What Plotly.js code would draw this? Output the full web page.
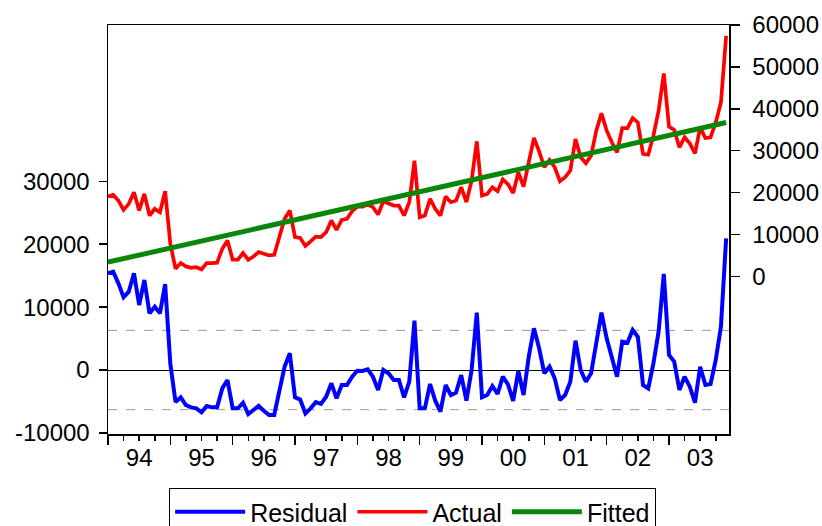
<!DOCTYPE html>
<html>
<head>
<meta charset="utf-8">
<script src="https://cdn.plot.ly/plotly-3.0.1.min.js"></script>
<style>
html,body{margin:0;padding:0;background:#fff;}
#chart{width:822px;height:526px;}
</style>
</head>
<body>
<div id="chart"></div>
<script>
// Monthly observations, 1994M01 .. 2003M12 (index 0..119)
const monthIndex = Array.from({length:120}, (_, i) => i);

const actual = [
19060,19450,18100,15880,17310,20090,15720,19690,14530,16120,15320,20330,
7780,1830,3180,2380,2060,2220,1670,3180,3180,3260,6590,8580,
3970,3970,5560,3970,4760,5800,5400,5000,5160,9770,13740,15720,
9370,9170,7260,8340,9500,9370,10560,13340,11120,13500,13740,15560,
16670,16670,17150,16520,14770,17940,17310,16910,16910,14530,17710,27630,
14130,14530,18500,16120,14530,19060,17710,18100,21280,17710,22870,32240,
19290,19690,21280,20330,23150,21990,19890,24850,21440,27630,33030,29850,
26040,27790,26040,22710,23660,25250,32790,28430,27000,28820,34780,38910,
34780,32000,29620,35410,35410,37790,36760,29220,29060,33590,39540,48430,
35730,34940,30810,33190,31760,29380,35570,33030,33190,36760,41530,57410
];

const fitted = [
3400,3680,3960,4240,4520,4800,5080,5360,5640,5920,6200,6480,
6760,7040,7320,7600,7880,8160,8440,8720,9000,9280,9560,9840,
10120,10400,10680,10960,11240,11520,11800,12080,12360,12640,12920,13200,
13480,13760,14040,14320,14600,14880,15160,15440,15720,16000,16280,16560,
16840,17120,17400,17680,17960,18240,18520,18800,19080,19360,19640,19920,
20200,20480,20760,21040,21320,21600,21880,22160,22440,22720,23000,23280,
23560,23840,24120,24400,24680,24960,25240,25520,25800,26080,26360,26640,
26920,27200,27480,27760,28040,28320,28600,28880,29160,29440,29720,30000,
30280,30560,30840,31120,31400,31680,31960,32240,32520,32800,33080,33360,
33640,33920,34200,34480,34760,35040,35320,35600,35880,36160,36440,36720
];

const residual = [
15370,15640,13780,11550,12450,15370,10330,14310,9000,10070,9010,13670,
1000,-5100,-4350,-5570,-5940,-6100,-6730,-5720,-5940,-5940,-2920,-1590,
-6100,-6100,-5200,-7000,-6360,-5720,-6470,-7150,-7150,-3180,530,2650,
-4350,-4700,-6890,-6100,-5120,-5400,-4240,-2120,-4500,-2390,-2390,-1060,
-110,-160,110,-1060,-3180,0,-530,-1590,-1590,-4350,-1860,7840,
-6100,-6100,-2230,-4880,-6630,-2390,-3980,-3600,-800,-4880,0,9120,
-4350,-3980,-2540,-3820,-1060,-2300,-4900,-130,-3980,2120,6630,3450,
-530,530,-1330,-4770,-3980,-1860,4660,0,-1860,-530,4770,9120,
5040,1860,-1060,4500,4350,6360,5300,-2390,-2920,1060,6100,15270,
2390,1330,-3180,-1060,-2650,-5190,530,-2390,-2230,1590,6890,20940
];

// Standard-error band for the residual
const seBand = 6300;

// Axis ticks
const yearLabels = ['94','95','96','97','98','99','00','01','02','03'];
const yearLabelPos = [6,18,30,42,54,66,78,90,102,114];
const yearStartPos = [0,12,24,36,48,60,72,84,96,108];
const quarterPos = Array.from({length:40}, (_, i) => i*3);
const leftTicks = [-10000,0,10000,20000,30000];
const leftTickText = ['-10000','0','10000','20000','30000'];
const rightTicks = [0,10000,20000,30000,40000,50000,60000];
const rightTickText = ['0','10000','20000','30000','40000','50000','60000'];

const FONT = 'Liberation Sans, Arial, Helvetica, sans-serif';

const traces = [
  {x: monthIndex, y: residual, name: 'Residual', type: 'scatter', mode: 'lines',
   xaxis: 'x', yaxis: 'y', line: {color: '#0000ff', width: 4}},
  {x: monthIndex, y: actual, name: 'Actual', type: 'scatter', mode: 'lines',
   xaxis: 'x2', yaxis: 'y2', line: {color: '#ff0000', width: 3.7}},
  {x: monthIndex, y: fitted, name: 'Fitted', type: 'scatter', mode: 'lines',
   xaxis: 'x2', yaxis: 'y2', line: {color: '#0a860a', width: 5}}
];

const xRange = [0, 119.55];

const layout = {
  width: 822, height: 526,
  margin: {l: 108, r: 93, t: 25, b: 92},
  paper_bgcolor: '#ffffff', plot_bgcolor: '#ffffff',
  font: {family: FONT, size: 24, color: '#000000'},
  showlegend: true,
  legend: {
    orientation: 'h', xref: 'container', x: 0.502, xanchor: 'center',
    yref: 'container', y: 0.0722, yanchor: 'top',
    bordercolor: '#000000', borderwidth: 1, bgcolor: '#ffffff',
    font: {family: FONT, size: 25, color: '#000000'},
    itemwidth: 70, tracegroupgap: 0
  },
  xaxis: {
    range: xRange, tickmode: 'array', tickvals: yearLabelPos, ticktext: yearLabels,
    ticks: '', showgrid: false, zeroline: false,
    showline: true, mirror: true, linecolor: '#000000', linewidth: 1.5,
    tickfont: {family: FONT, size: 24, color: '#000000'},
    ticklabelstandoff: 2, automargin: false
  },
  xaxis2: {
    range: xRange, overlaying: 'x', anchor: 'y', side: 'bottom',
    tickmode: 'array', tickvals: yearStartPos, showticklabels: false,
    ticks: 'outside', ticklen: 10, tickwidth: 1.5, tickcolor: '#000000',
    minor: {tickmode: 'array', tickvals: quarterPos, ticks: 'outside', ticklen: 6, tickwidth: 1.5, tickcolor: '#000000', showgrid: false},
    showgrid: false, zeroline: false, showline: false, automargin: false
  },
  yaxis: {
    range: [-10175, 54850], tickmode: 'array', tickvals: leftTicks, ticktext: leftTickText,
    ticks: 'outside', ticklen: 8, tickwidth: 1.5, tickcolor: '#000000',
    showgrid: false, zeroline: true, zerolinecolor: '#000000', zerolinewidth: 1,
    showline: true, linecolor: '#000000', linewidth: 1.5,
    tickfont: {family: FONT, size: 24, color: '#000000'},
    ticklabelstandoff: 4, automargin: false
  },
  yaxis2: {
    range: [-37620, 60000], overlaying: 'y', side: 'right', anchor: 'x2',
    tickmode: 'array', tickvals: rightTicks, ticktext: rightTickText,
    ticks: 'outside', ticklen: 9, tickwidth: 1.5, tickcolor: '#000000',
    showgrid: false, zeroline: false,
    showline: true, linecolor: '#000000', linewidth: 1.5,
    tickfont: {family: FONT, size: 24, color: '#000000'},
    ticklabelstandoff: 8, automargin: false
  },
  shapes: [
    {type: 'line', xref: 'paper', x0: 0, x1: 1, yref: 'y', y0: seBand, y1: seBand,
     line: {color: '#9a9a9a', width: 1, dash: 'dash'}, layer: 'below'},
    {type: 'line', xref: 'paper', x0: 0, x1: 1, yref: 'y', y0: -seBand, y1: -seBand,
     line: {color: '#9a9a9a', width: 1, dash: 'dash'}, layer: 'below'}
  ]
};

Plotly.newPlot('chart', traces, layout, {displayModeBar: false, staticPlot: true});
</script>
</body>
</html>
